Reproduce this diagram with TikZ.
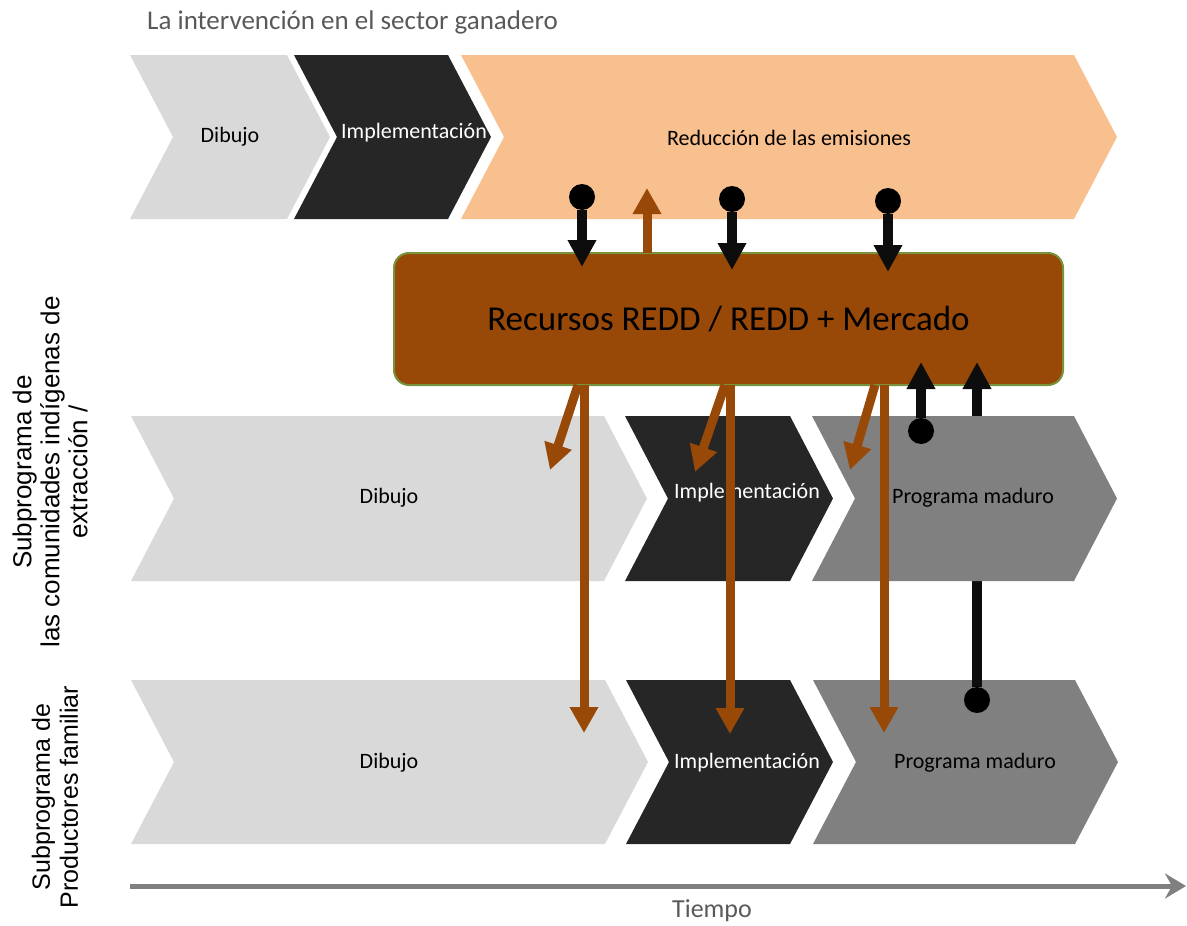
\documentclass[tikz,border=0pt]{standalone}
\usepackage{fontspec}
\setmainfont{Carlito}
\newfontfamily\arialfont{Liberation Sans}
\usetikzlibrary{arrows.meta, positioning}

\definecolor{lightgr}{HTML}{D9D9D9}
\definecolor{darkgr}{HTML}{262626}
\definecolor{midgr}{HTML}{808080}
\definecolor{peach}{HTML}{F9C08F}
\definecolor{reddbrown}{HTML}{984807}
\definecolor{boxedge}{HTML}{77933C}
\definecolor{titlegr}{HTML}{595959}

% chevron: x left, x top right, y top, y bottom, fill
\newcommand{\chevron}[5]{%
  \fill[#5] (#1,#3) -- (#2,#3) -- ({#2+43},{(#3+#4)/2}) -- (#2,#4)
    -- (#1,#4) -- ({#1+43},{(#3+#4)/2}) -- cycle;}

\begin{document}
\begin{tikzpicture}[x=1pt, y=-1pt,
	lab/.style = {font=\fontsize{22}{26}\selectfont, inner sep=0pt},
	side/.style = {rotate=90, align=center, font=\arialfont\fontsize{25}{28}\selectfont},
	dot/.style = {circle, fill=black, minimum size=26pt, inner sep=0pt},
	blk/.style = {draw=black!95, line width=10pt, -{Triangle[length=27pt,width=27pt]}},
	brn/.style = {draw=reddbrown, line width=9pt, -{Triangle[length=26pt,width=27pt]}},
	box/.style = {rectangle, rounded corners=15pt, fill=reddbrown, draw=boxedge, line width=2pt,
		minimum width=669pt, minimum height=132pt, font=\fontsize{35}{40}\selectfont}]
	\useasboundingbox (0,0) rectangle (1187,926);

	\node[anchor=base west, inner sep=0pt, text=titlegr, font=\fontsize{27}{32}\selectfont] (titulo) at (147,29) {La intervención en el sector ganadero};

	% first row
	\chevron{130}{287}{55}{219}{lightgr}
	\chevron{294}{448}{55}{219}{darkgr}
	\chevron{461}{1074}{55}{219}{peach}
	\node[lab] (dib1) at (230,137) {Dibujo};
	\node[lab, text=white] (imp1) at (414,133) {Implementación};
	\node[lab] (red1) at (789,138) {Reducción de las emisiones};

	\node[box] (redd) at (728.5,319) {Recursos REDD / REDD + Mercado};

	% third row
	\chevron{131}{605}{680}{844}{lightgr}
	\chevron{626}{790}{680}{844}{darkgr}
	\chevron{813}{1075}{680}{844}{midgr}
	\node[lab] (dib3) at (389,763) {Dibujo};
	\node[lab, text=white] (imp3) at (747,763) {Implementación};
	\node[lab] (mad3) at (975,763) {Programa maduro};

	\node[dot] (p3) at (977,700) {};
	\coordinate (up2) at (977,362);
	\draw[blk] (p3) -- (up2);

	% second row
	\chevron{131}{604}{416}{581}{lightgr}
	\chevron{625}{790}{416}{581}{darkgr}
	\chevron{812}{1074}{416}{581}{midgr}
	\node[lab] (dib2) at (389,498) {Dibujo};
	\node[lab, text=white] (imp2) at (747,493) {Implementación};
	\node[lab] (mad2) at (973,498) {Programa maduro};

	% from the first row
	\node[dot] (s1) at (582,197) {};
	\node[dot] (s2) at (732,199) {};
	\node[dot] (s3) at (888,201) {};
	\coordinate (e1) at (582,267);
	\coordinate (e2) at (732,270);
	\coordinate (e3) at (888,272);
	\draw[blk] (s1) -- (e1);
	\draw[blk] (s2) -- (e2);
	\draw[blk] (s3) -- (e3);
	\coordinate (u0) at (647,253);
	\coordinate (u1) at (647,188);
	\draw[brn] (u0) -- (u1);

	% down to the other rows
	\coordinate (a1) at (578,385); \coordinate (a2) at (725,385); \coordinate (a3) at (875,385);
	\coordinate (h1) at (550,470); \coordinate (h2) at (695,472); \coordinate (h3) at (850,470);
	\draw[brn] (a1) -- (h1);
	\draw[brn] (a2) -- (h2);
	\draw[brn] (a3) -- (h3);
	\coordinate (v1) at (584,385); \coordinate (v2) at (730,385); \coordinate (v3) at (884,385);
	\coordinate (w1) at (584,733); \coordinate (w2) at (730,734); \coordinate (w3) at (884,733);
	\draw[brn] (v1) -- (w1);
	\draw[brn] (v2) -- (w2);
	\draw[brn] (v3) -- (w3);

	\node[dot] (p2) at (921,431) {};
	\coordinate (up1) at (921,362);
	\draw[blk] (p2) -- (up1);

	% side labels and time
	\node[side, font=\arialfont\fontsize{26}{28}\selectfont] (sub1) at (50,472) {Subprograma de\\las comunidades indígenas de\\extracción /};
	\node[side] (sub2) at (55,797) {Subprograma de\\Productores familiar};

	\coordinate (t0) at (130,886);
	\coordinate (t1) at (1186,886);
	\draw[draw=midgr, line width=5pt, -{Stealth[length=21pt,width=25pt,inset=7pt]}] (t0) -- (t1);
	\node[text=titlegr, font=\fontsize{26}{30}\selectfont] (tiempo) at (712,911) {Tiempo};
\end{tikzpicture}
\end{document}
